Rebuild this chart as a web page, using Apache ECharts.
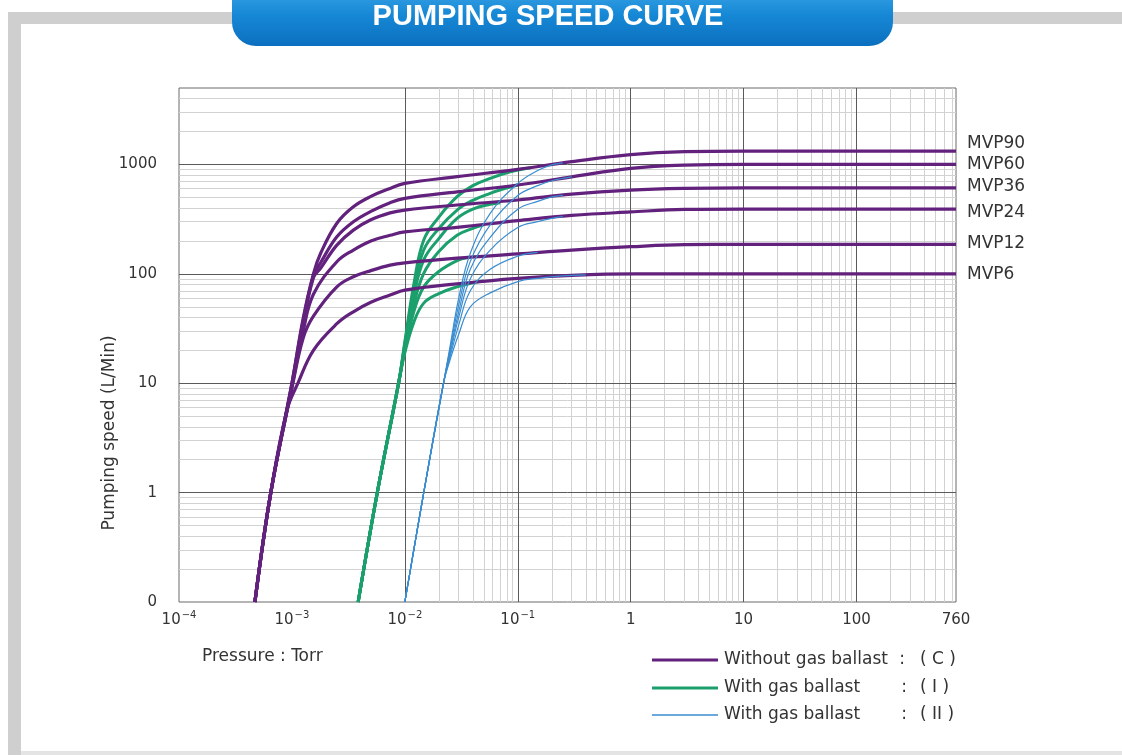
<!DOCTYPE html>
<html><head><meta charset="utf-8">
<script src="https://cdn.jsdelivr.net/npm/echarts@6/dist/echarts.min.js"></script>
<style>html,body{margin:0;padding:0;background:#fff}#c{width:1122px;height:755px}</style>
</head><body><div id="c"></div><script>
// ---- axis ticks ----
const xTicks = [1e-4, 1e-3, 1e-2, 1e-1, 1, 10, 100, 760];
const xTickLabels = ['{b|10}{s|−4}', '{b|10}{s|−3}', '{b|10}{s|−2}', '{b|10}{s|−1}', '{b|1}', '{b|10}', '{b|100}', '{b|760}'];
const yTicks = [0.1, 1, 10, 100, 1000];
const yTickLabels = ['0', '1', '10', '100', '1000'];
const xMajor = [1e-3, 1e-2, 1e-1, 1, 10, 100];
const yMajor = [1, 10, 100, 1000];
const modelNames = ['MVP90', 'MVP60', 'MVP36', 'MVP24', 'MVP12', 'MVP6'];

// ---- Without gas ballast (C) ----
const c90 = [[4.7e-4,0.1],[6.5e-4,1],[1.0e-3,10],[1.25e-3,38],[1.55e-3,100],[1.8e-3,155],[2.5e-3,290],[3.5e-3,410],[5e-3,510],[7.4e-3,604],[1e-2,671],[2.9e-2,773],[0.1,902],[0.3,1060],[1,1230],[3,1310],[10,1325],[760,1325]];
const c60 = [[4.7e-4,0.1],[6.5e-4,1],[1.0e-3,10],[1.25e-3,36],[1.55e-3,96],[1.8e-3,127],[2.5e-3,218],[3.5e-3,299],[5e-3,372],[7.4e-3,447],[1e-2,490],[2.9e-2,562],[0.1,649],[0.3,770],[1,921],[3,985],[10,1000],[760,1000]];
const c36 = [[4.7e-4,0.1],[6.5e-4,1],[1.0e-3,9.6],[1.25e-3,34],[1.55e-3,92],[1.8e-3,113],[2.5e-3,183],[3.5e-3,251],[5e-3,312],[7.4e-3,361],[1e-2,383],[2.9e-2,426],[0.1,473],[0.3,535],[1,583],[3,605],[10,612],[760,612]];
const c24 = [[4.7e-4,0.1],[6.5e-4,1],[1.0e-3,9.3],[1.26e-3,30],[1.55e-3,65],[2.5e-3,129],[3.5e-3,165],[5e-3,200],[7.4e-3,225],[1e-2,242],[2.9e-2,266],[0.1,306],[0.3,342],[1,368],[3,388],[10,391],[760,391]];
const c12 = [[4.7e-4,0.1],[6.5e-4,1],[1.0e-3,9],[1.26e-3,26],[1.55e-3,41],[2.5e-3,76],[3.5e-3,94],[5e-3,107],[7.4e-3,120],[1e-2,126],[2.9e-2,139],[0.1,152],[0.3,165],[1,177],[3,185],[10,186],[760,186]];
const c6 = [[4.7e-4,0.1],[6.5e-4,1],[9e-4,5.6],[1.13e-3,10],[1.55e-3,20],[2.5e-3,35],[3.5e-3,45],[5e-3,55],[7.4e-3,64],[1e-2,71],[2.9e-2,81],[0.1,91],[0.3,97],[1.1,100],[760,100]];

// ---- With gas ballast (I) ----
const g90 = [[3.86e-3,0.1],[5.7e-3,1],[8.8e-3,10],[1e-2,24],[1.2e-2,80],[1.47e-2,204],[2e-2,330],[2.9e-2,507],[4e-2,640],[5.7e-2,747],[8.6e-2,857],[0.13,935]];
const g60 = [[3.86e-3,0.1],[5.7e-3,1],[8.8e-3,10],[1e-2,23],[1.2e-2,70],[1.47e-2,165],[2e-2,260],[2.9e-2,383],[4e-2,470],[5.7e-2,545],[7.5e-2,598],[0.1,649]];
const g36 = [[3.86e-3,0.1],[5.7e-3,1],[8.8e-3,10],[1e-2,22],[1.2e-2,62],[1.47e-2,134],[2e-2,210],[2.9e-2,321],[4e-2,390],[5.7e-2,432],[7e-2,447]];
const g24 = [[3.86e-3,0.1],[5.7e-3,1],[8.8e-3,10],[1e-2,21],[1.2e-2,52],[1.47e-2,101],[2e-2,160],[2.9e-2,225],[4e-2,260],[5e-2,280]];
const g12 = [[3.86e-3,0.1],[5.7e-3,1],[8.8e-3,10],[1e-2,20],[1.2e-2,45],[1.47e-2,76],[2e-2,105],[2.9e-2,132],[3.6e-2,141]];
const g6 = [[3.86e-3,0.1],[5.7e-3,1],[8.8e-3,10],[1e-2,19],[1.2e-2,36],[1.47e-2,54],[2e-2,66],[2.9e-2,76],[4e-2,83],[5e-2,86]];

// ---- With gas ballast (II) ----
const b90 = [[1e-2,0.1],[1.47e-2,1],[2.2e-2,10],[2.5e-2,21],[3e-2,60],[3.8e-2,154],[5.7e-2,357],[0.1,671],[0.15,880],[0.2,990],[0.25,1035]];
const b60 = [[1e-2,0.1],[1.47e-2,1],[2.2e-2,10],[2.5e-2,20],[3e-2,52],[3.8e-2,130],[5.7e-2,280],[0.1,520],[0.15,640],[0.2,710],[0.3,770]];
const b36 = [[1e-2,0.1],[1.47e-2,1],[2.2e-2,10],[2.5e-2,19],[3e-2,45],[3.8e-2,110],[5.7e-2,215],[0.1,390],[0.15,460],[0.2,505],[0.25,522]];
const b24 = [[1e-2,0.1],[1.47e-2,1],[2.2e-2,10],[2.5e-2,18],[3e-2,40],[3.8e-2,90],[5.7e-2,165],[0.1,265],[0.15,300],[0.2,322],[0.25,334]];
const b12 = [[1e-2,0.1],[1.47e-2,1],[2.2e-2,10],[2.5e-2,17],[3e-2,34],[3.8e-2,70],[5.7e-2,110],[0.1,145],[0.15,157]];
const b6 = [[1e-2,0.1],[1.47e-2,1],[2.2e-2,10],[2.5e-2,16],[3e-2,28],[3.8e-2,50],[5.7e-2,67],[0.1,85],[0.15,91],[0.25,96],[0.4,98]];

const legendItems = ['Without gas ballast', 'With gas ballast', 'With gas ballast'];
const legendCodes = ['( C )', '( I )', '( II )'];

const FONT = 'DejaVu Sans';
const PURPLE = '#62217c', GREEN = '#1b9f6c', BLUE = '#3a8dd0';

// minor grid values (2..9 per decade)
const xMinor = [], yMinor = [];
for (let e = -4; e <= 2; e++) for (let k = 2; k <= 9; k++) { const v = k * Math.pow(10, e); if (v < 760) xMinor.push(v); }
for (let e = -1; e <= 3; e++) for (let k = 2; k <= 9; k++) { const v = k * Math.pow(10, e); if (v < 5000) yMinor.push(v); }

function gridLines(xs, ys, color, z) {
  return {
    type: 'line', data: [], z: z, silent: true, symbol: 'none',
    markLine: {
      z: z, silent: true, symbol: ['none', 'none'], label: { show: false }, animation: false,
      lineStyle: { type: 'solid', color: color, width: 1 },
      emphasis: { disabled: true },
      data: xs.map(v => ({ xAxis: v })).concat(ys.map(v => ({ yAxis: v })))
    }
  };
}

const cSets = [c90, c60, c36, c24, c12, c6];
const gSets = [g90, g60, g36, g24, g12, g6];
const bSets = [b90, b60, b36, b24, b12, b6];
const labelOffsets = [[0, -8], [0, 0], [0, -1], [0, 4], [0, -1], [0, 1]];
const SMOOTH = 0.4;

const series = [gridLines(xMinor, yMinor, '#d2d2d2', 1), gridLines(xMajor, yMajor, '#5a5a5a', 2)];
gSets.forEach((d, i) => series.push({ name: modelNames[i] + ' (I)', type: 'line', data: d, showSymbol: false, symbol: 'none', smooth: SMOOTH, z: 6, lineStyle: { color: GREEN, width: 3 } }));
cSets.forEach((d, i) => series.push({ name: modelNames[i], type: 'line', data: d, showSymbol: false, symbol: 'none', smooth: SMOOTH, z: 7, lineStyle: { color: PURPLE, width: 3.2 },
  endLabel: { show: true, formatter: modelNames[i], offset: labelOffsets[i], distance: 11, color: '#333', fontSize: 17, fontFamily: FONT } }));
bSets.forEach((d, i) => series.push({ name: modelNames[i] + ' (II)', type: 'line', data: d, showSymbol: false, symbol: 'none', smooth: SMOOTH, z: 8, lineStyle: { color: BLUE, width: 1.2 } }));

function nearestLabel(v, ticks, labels) {
  let best = 0, bd = Infinity;
  ticks.forEach((t, i) => { const d = Math.abs(Math.log10(v) - Math.log10(t)); if (d < bd) { bd = d; best = i; } });
  return labels[best];
}

const legendY = [660, 688, 715];
const legendColors = [PURPLE, GREEN, BLUE];
const legendWidths = [3, 3, 1.3];
const TXT = '17px "' + FONT + '"';
const graphic = [
  { type: 'rect', shape: { x: 8, y: 12, width: 1114, height: 12 }, style: { fill: '#cfcfcf' }, z: 0 },
  { type: 'rect', shape: { x: 8, y: 12, width: 13, height: 743 }, style: { fill: '#cfcfcf' }, z: 0 },
  { type: 'rect', shape: { x: 21, y: 751, width: 1101, height: 4 }, style: { fill: '#e4e4e4' }, z: 0 },
  { type: 'rect', shape: { x: 232, y: -26, width: 661, height: 72, r: 24 },
    style: { fill: new echarts.graphic.LinearGradient(0, 0, 0, 1, [{ offset: 0, color: '#4fb2f0' }, { offset: 0.55, color: '#1789d6' }, { offset: 1, color: '#0b6fbf' }]) }, z: 10 },
  { type: 'text', x: 548, y: 17, style: { text: 'PUMPING SPEED CURVE', fill: '#fff', font: 'bold 29px "Liberation Sans", Arial', align: 'center', verticalAlign: 'middle' }, z: 11 },
  { type: 'text', x: 110, y: 433, rotation: Math.PI / 2, style: { text: 'Pumping speed (L/Min)', fill: '#333', font: TXT, align: 'center', verticalAlign: 'middle' }, z: 11 },
  { type: 'text', x: 202, y: 657, style: { text: 'Pressure : Torr', fill: '#333', font: TXT, align: 'left', verticalAlign: 'middle' }, z: 11 }
];
legendItems.forEach((t, i) => {
  graphic.push({ type: 'line', shape: { x1: 652, y1: legendY[i], x2: 718, y2: legendY[i] }, style: { stroke: legendColors[i], lineWidth: legendWidths[i] }, z: 11 });
  graphic.push({ type: 'text', x: 724, y: legendY[i], style: { text: t, fill: '#333', font: TXT, align: 'left', verticalAlign: 'middle' }, z: 11 });
  graphic.push({ type: 'text', x: i === 0 ? 902 : 904, y: legendY[i], style: { text: ':', fill: '#333', font: TXT, align: 'center', verticalAlign: 'middle' }, z: 11 });
  graphic.push({ type: 'text', x: 920, y: legendY[i], style: { text: legendCodes[i], fill: '#333', font: TXT, align: 'left', verticalAlign: 'middle' }, z: 11 });
});

const option = {
  animation: false,
  backgroundColor: '#fff',
  grid: { left: 179, top: 88, right: 166, bottom: 153, show: true, borderColor: '#6a6a6a', borderWidth: 1, backgroundColor: 'transparent' },
  xAxis: {
    type: 'log', logBase: 10, min: xTicks[0] * 0.9999, max: xTicks[xTicks.length - 1] * 1.0001,
    axisLine: { show: false }, axisTick: { show: false }, splitLine: { show: false }, minorTick: { show: false },
    axisLabel: {
      customValues: xTicks, margin: 9, color: '#333', fontFamily: FONT,
      formatter: v => nearestLabel(v, xTicks, xTickLabels),
      rich: { b: { fontSize: 15, fontFamily: FONT, color: '#333', verticalAlign: 'bottom', lineHeight: 17 },
              s: { fontSize: 10, fontFamily: FONT, color: '#333', verticalAlign: 'bottom', padding: [0, 0, 8, 1], lineHeight: 11 } }
    }
  },
  yAxis: {
    type: 'log', logBase: 10, min: yTicks[0] * 0.9999, max: 5000,
    axisLine: { show: false }, axisTick: { show: false }, splitLine: { show: false },
    axisLabel: { customValues: yTicks, margin: 22, color: '#333', fontSize: 15, fontFamily: FONT,
      formatter: v => nearestLabel(v, yTicks, yTickLabels) }
  },
  graphic: graphic,
  series: series
};
const chart = echarts.init(document.getElementById('c'), null, { renderer: 'canvas' });
chart.setOption(option);
</script></body></html>
